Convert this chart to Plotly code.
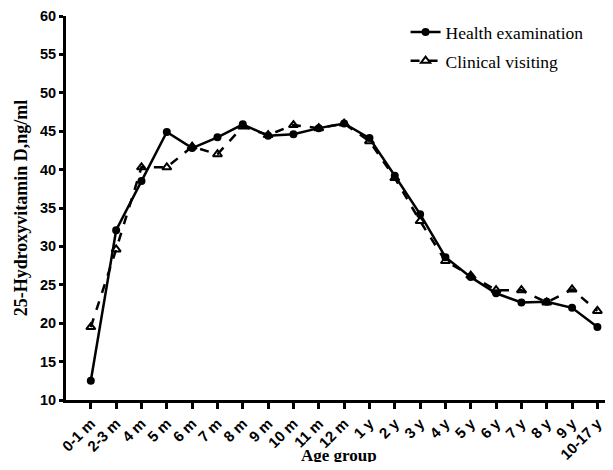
import plotly.graph_objects as go

categories = ["0-1 m", "2-3 m", "4 m", "5 m", "6 m", "7 m", "8 m", "9 m", "10 m", "11 m", "12 m",
              "1 y", "2 y", "3 y", "4 y", "5 y", "6 y", "7 y", "8 y", "9 y", "10-17 y"]
health = [12.5, 32.1, 38.5, 44.9, 42.8, 44.2, 45.9, 44.4, 44.6, 45.4, 46.0,
          44.1, 39.2, 34.2, 28.6, 26.0, 23.9, 22.7, 22.8, 22.0, 19.5]
clinical = [19.5, 29.6, 40.3, 40.3, 43.0, 42.0, 45.6, 44.5, 45.8, 45.4, 46.0,
            43.7, 38.9, 33.3, 28.1, 26.2, 24.3, 24.3, 22.7, 24.4, 21.6]
y_ticks = [10, 15, 20, 25, 30, 35, 40, 45, 50, 55, 60]

x_idx = list(range(len(categories)))

fig = go.Figure()
fig.add_trace(go.Scatter(
    x=x_idx, y=health, name="Health examination", mode="lines+markers",
    legendgroup="h", cliponaxis=False,
    line=dict(color="black", width=2.5),
    marker=dict(symbol="circle", size=8, color="black"),
))
fig.add_trace(go.Scatter(
    x=x_idx, y=clinical, name="Clinical visiting", mode="lines+markers",
    legendgroup="c", cliponaxis=False,
    line=dict(color="black", width=2.5, dash="dash"),
    marker=dict(symbol="triangle-up-open", size=8, color="black", line=dict(width=2, color="black")),
))

fig.update_layout(
    width=597, height=454,
    margin=dict(l=58, r=0, t=8, b=62),
    plot_bgcolor="white", paper_bgcolor="white",
    showlegend=True,
    legend=dict(
        x=0.63, y=1.005, xanchor="left", yanchor="top",
        font=dict(family="Liberation Serif", size=17.5, color="black"),
        traceorder="grouped", tracegroupgap=3, bgcolor="rgba(0,0,0,0)",
        itemwidth=30,
    ),
    xaxis=dict(
        range=[-0.98, 20.3],
        tickmode="array", tickvals=x_idx, ticktext=categories,
        tickangle=-45, automargin=False, ticklabeloverflow="allow",
        showline=True, linecolor="black", linewidth=3,
        ticks="outside", ticklen=6, tickwidth=3, tickcolor="black",
        showgrid=False, zeroline=False,
        tickfont=dict(family="Liberation Sans", size=15, color="black", weight="bold"),
    ),
    yaxis=dict(
        range=[10, 60], automargin=False, ticklabeloverflow="allow",
        tickmode="array", tickvals=y_ticks,
        showline=True, linecolor="black", linewidth=3,
        ticks="outside", ticklen=4, tickwidth=3, tickcolor="black",
        showgrid=False, zeroline=False,
        tickfont=dict(family="Liberation Sans", size=14.5, color="black", weight="bold"),
        title=dict(text="<b>25-Hydroxyvitamin D,ng/ml</b>", font=dict(family="Liberation Serif", size=18, color="black"), standoff=8),
    ),
    annotations=[dict(
        text="<b>Age group</b>", xref="paper", yref="paper", x=0.507, y=-0.145,
        xanchor="center", yanchor="middle", showarrow=False, borderpad=0,
        font=dict(family="Liberation Serif", size=17, color="black"),
    )],
)

fig.write_html("out.html")
